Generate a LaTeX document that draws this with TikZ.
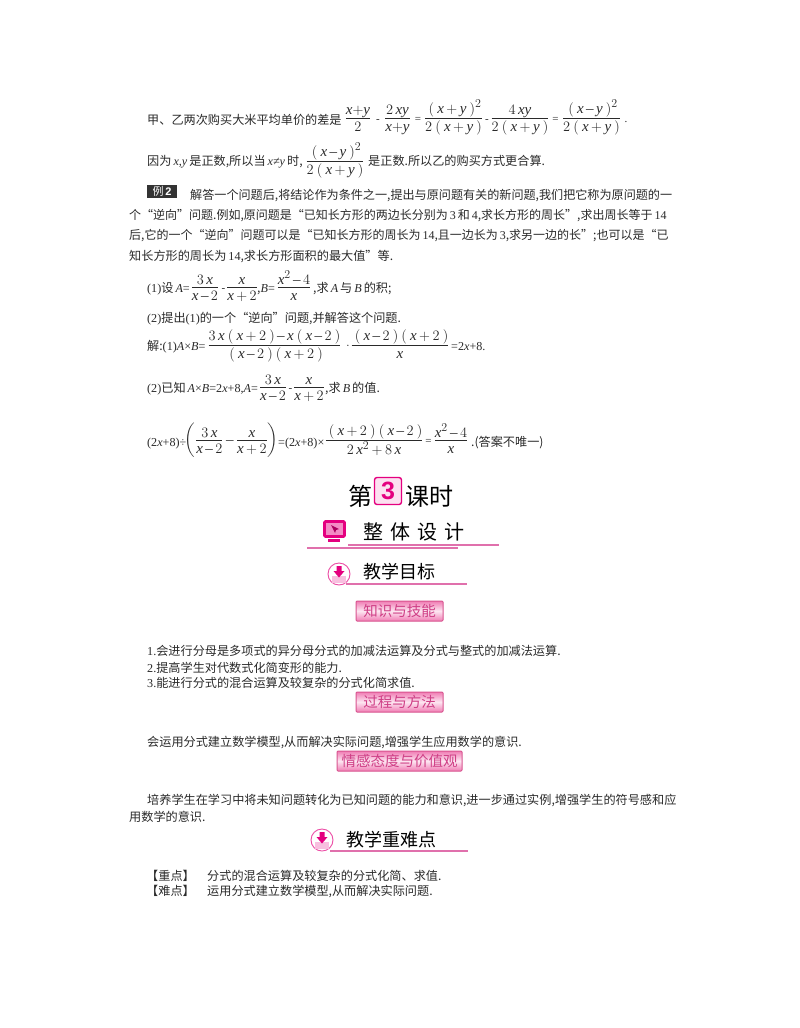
\documentclass[tikz,border=0pt]{standalone}
\usepackage{amsmath}
\usepackage{fontspec}
\setmainfont{Liberation Serif}
\usepackage[italic]{mathastext}
\newfontfamily\cjk{Noto Sans CJK SC}
\newfontfamily\hei{Liberation Sans}
\usepackage{tikz}
\definecolor{rosebar}{HTML}{E070AC}
\definecolor{magbar}{HTML}{E4007F}
\definecolor{inktxt}{HTML}{2A2A2A}
\definecolor{btntop}{HTML}{F07CB4}
\definecolor{btnmid}{HTML}{FDE6F1}
\definecolor{btnedge}{HTML}{D8548F}
\definecolor{btntxt}{HTML}{CF3F86}
\newcommand{\lt}[1]{{\rmfamily #1}}
\newcommand{\li}[1]{{\rmfamily\itshape #1}}
\newcommand{\frin}[2]{\frac{\displaystyle\rule[-2pt]{0pt}{0pt}#1}{\displaystyle\rule{0pt}{12.5pt}#2}}
\newcommand{\fr}[2]{$\frin{#1}{#2}$}
\newcommand{\pa}[1]{\mkern4mu(\mkern4mu#1\mkern4mu)}
\tikzset{
  body/.style={anchor=base west, inner sep=0pt, text=inktxt, font=\cjk\fontsize{12.15}{14}\selectfont},
  bodyfit/.style={body, font=\cjk\fontsize{12}{14}\selectfont},
  mth/.style={anchor=base, inner sep=0pt, text=inktxt, font=\rmfamily\fontsize{15}{17}\selectfont, execute at begin node={\medmuskip=3mu}},
  sml/.style={anchor=base, inner sep=0pt, text=inktxt, font=\rmfamily\fontsize{11}{13}\selectfont},
  head/.style={anchor=base west, inner sep=0pt, text=black, font=\cjk\fontsize{18}{20}\selectfont},
  hline/.style={draw=rosebar, line width=1.2pt},
  btn/.style={draw=btnedge, line width=1pt, rounded corners=1pt, top color=btntop, bottom color=btntop, middle color=btnmid, inner sep=0pt, minimum height=20pt, text=btntxt, font=\cjk\fontsize{14.5}{16}\selectfont},
  ring/.style={circle, draw=magbar!70, line width=0.9pt, fill=white, minimum size=22pt, inner sep=0pt},
}
\begin{document}
\begin{tikzpicture}[x=1pt,y=-1pt]
\useasboundingbox[fill=white] (0,0) rectangle (800,1028);
% first lines
\node[body] (l1) at (147,124.5) {甲、乙两次购买大米平均单价的差是};
\node[mth] (f1a) at (358,122) {\fr{x{+}y}{2}};
\node[sml] (m1a) at (378,122) {-};
\node[mth] (f1b) at (397.5,122) {\fr{2\,xy}{x{+}y}};
\node[sml] (e1a) at (418,122) {=};
\node[mth] (f1c) at (453.5,122) {\fr{\pa{x+y}^{2}}{2\pa{x+y}}};
\node[sml] (m1b) at (487,122) {-};
\node[mth] (f1d) at (520,122) {\fr{4\,xy}{2\pa{x+y}}};
\node[sml] (e1b) at (555.5,122) {=};
\node[mth] (f1e) at (591.5,122) {\fr{\pa{x-y}^{2}}{2\pa{x+y}}};
\node[sml] (d1) at (626,122) {.};
\node[body] (l2) at (147,165.5) {因为\,\li{x,y}\,是正数,所以当\,\li{x≠y}\,时,};
\node[mth] (f2) at (335,165) {\fr{\pa{x-y}^{2}}{2\pa{x+y}}};
\node[body] (l2b) at (368,165.5) {是正数.所以乙的购买方式更合算.};
% example
\node[fill=black!80, minimum width=30pt, minimum height=13pt, inner sep=0pt, text=white, font=\cjk\fontsize{11}{12}\selectfont] (ex) at (162,191) {例\,{\hei\bfseries 2}};
\node[body, font=\cjk\fontsize{12.1}{14}\selectfont] (l3) at (190,199.5) {解答一个问题后,将结论作为条件之一,提出与原问题有关的新问题,我们把它称为原问题的一};
\node[bodyfit] (l4) at (129,219.5) {个“逆向”问题.例如,原问题是“已知长方形的两边长分别为\,\lt{3}\,和\,\lt{4},求长方形的周长”,求出周长等于\,\lt{14}};
\node[bodyfit] (l5) at (129,239.5) {后,它的一个“逆向”问题可以是“已知长方形的周长为\,\lt{14},且一边长为\,\lt{3},求另一边的长”;也可以是“已};
\node[body] (l6) at (129,260.5) {知长方形的周长为\,\lt{14},求长方形面积的最大值”等.};
% question
\node[body] (q1) at (147,292.5) {\lt{(1)}设\,\li{A}\lt{=}};
\node[mth] (q1a) at (205,291) {\fr{3\,x}{x-2}};
\node[sml] (q1m) at (223.5,291) {-};
\node[mth] (q1b) at (242,291) {\fr{x}{x+2}};
\node[body] (q1c) at (257,292.5) {,\li{B}\lt{=}};
\node[mth] (q1d) at (294,291) {\fr{x^{2}-4}{x}};
\node[body] (q1e) at (313,292.5) {,求\,\li{A}\,与\,\li{B}\,的积;};
\node[body] (q2) at (147,322.5) {\lt{(2)}提出\lt{(1)}的一个“逆向”问题,并解答这个问题.};
\node[body] (s1) at (147,350.5) {解:\lt{(1)}\li{A}\lt{×}\li{B}\lt{=}};
\node[mth] (s1a) at (274.5,349) {\fr{3\,x\pa{x+2}-x\pa{x-2}}{\pa{x-2}\pa{x+2}}};
\node[sml] (s1m) at (348,349) {·};
\node[mth] (s1b) at (400,349) {\fr{\pa{x-2}\pa{x+2}}{x}};
\node[body] (s1c) at (451,350.5) {\lt{=2}\li{x}\lt{+8.}};
\node[body] (s2) at (147,392.5) {\lt{(2)}已知\,\li{A}\lt{×}\li{B}\lt{=2}\li{x}\lt{+8,}\li{A}\lt{=}};
\node[mth] (s2a) at (273,391) {\fr{3\,x}{x-2}};
\node[sml] (s2m) at (290.5,391) {-};
\node[mth] (s2b) at (309,391) {\fr{x}{x+2}};
\node[body] (s2c) at (325,392.5) {,求\,\li{B}\,的值.};
\node[body] (s3) at (147,446.5) {\lt{(2}\li{x}\lt{+8)÷}};
\node[mth] (s3a) at (231.5,444) {$\left(\frin{3\,x}{x-2}-\frin{x}{x+2}\right)$};
\node[body] (s3b) at (278,446.5) {\lt{=(2}\li{x}\lt{+8)×}};
\node[mth] (s3c) at (374,444) {\fr{\pa{x+2}\pa{x-2}}{2\,x^{2}+8\,x}};
\node[sml] (s3e) at (428.5,444) {=};
\node[mth] (s3d) at (451,444) {\fr{x^{2}-4}{x}};
\node[body] (s3f) at (471,446.5) {.(答案不唯一)};
% lesson title
\node[head, font=\cjk\fontsize{24}{26}\selectfont] (t1) at (348,505.5) {第};
\node[draw=magbar, fill=magbar!12, line width=1.4pt, rounded corners=2.5pt, minimum width=27pt, minimum height=27pt, inner sep=0pt, text=magbar, font=\hei\bfseries\fontsize{25}{27}\selectfont] (t3) at (388,491) {3};
\node[head, font=\cjk\fontsize{24}{26}\selectfont] (t2) at (405,505.5) {课时};
% monitor icon
\draw[fill=magbar!45, draw=magbar, line width=2.6pt, rounded corners=1pt] (324.5,521.5) rectangle (344.5,536.5);
\fill[magbar] (328,539) rectangle (340,541.5);
\fill[magbar!75!black] (331,525) -- (339,529) -- (336,530) -- (335,533) -- cycle;
\node[head, font=\cjk\fontsize{20}{22}\selectfont] (h1) at (363,539.5) {整\hspace{7pt}体\hspace{7pt}设\hspace{7pt}计};
\draw[hline] (348,545) -- (499,545);
\draw[hline] (307,548) -- (458,548);
% goals
\draw[hline] (346,584) -- (467,584);
\node[ring] (r1) at (339,574) {};
\fill[magbar!25] (332,576) rectangle (346,583);
\fill[magbar] (336.5,566) -- (341.5,566) -- (341.5,571) -- (344.5,571) -- (339,577.5) -- (333.5,571) -- (336.5,571) -- cycle;
\node[head] (h2) at (363,578.5) {教学目标};
\node[btn, minimum width=87pt] (b1) at (399.5,611) {知识与技能};
\node[body] (g1) at (147,655.5) {\lt{1.}会进行分母是多项式的异分母分式的加减法运算及分式与整式的加减法运算.};
\node[body] (g2) at (147,672.5) {\lt{2.}提高学生对代数式化简变形的能力.};
\node[body] (g3) at (147,687.5) {\lt{3.}能进行分式的混合运算及较复杂的分式化简求值.};
\node[btn, minimum width=87pt] (b2) at (399.5,702) {过程与方法};
\node[body] (g4) at (147,746.5) {会运用分式建立数学模型,从而解决实际问题,增强学生应用数学的意识.};
\node[btn, minimum width=125pt] (b3) at (399.5,761) {情感态度与价值观};
\node[body] (g5) at (147,804.5) {培养学生在学习中将未知问题转化为已知问题的能力和意识,进一步通过实例,增强学生的符号感和应};
\node[body] (g6) at (129,821.5) {用数学的意识.};
% key points
\draw[hline] (330,851) -- (468,851);
\node[ring] (r2) at (322,840) {};
\fill[magbar!25] (315,842) rectangle (329,849);
\fill[magbar] (319.5,832) -- (324.5,832) -- (324.5,837) -- (327.5,837) -- (322,843.5) -- (316.5,837) -- (319.5,837) -- cycle;
\node[head] (h3) at (346,846.5) {教学重难点};
\node[body] (k1) at (146,880.5) {【重点】};
\node[body] (k1b) at (207,880.5) {分式的混合运算及较复杂的分式化简、求值.};
\node[body] (k2) at (146,895.5) {【难点】};
\node[body] (k2b) at (207,895.5) {运用分式建立数学模型,从而解决实际问题.};
\end{tikzpicture}
\end{document}
